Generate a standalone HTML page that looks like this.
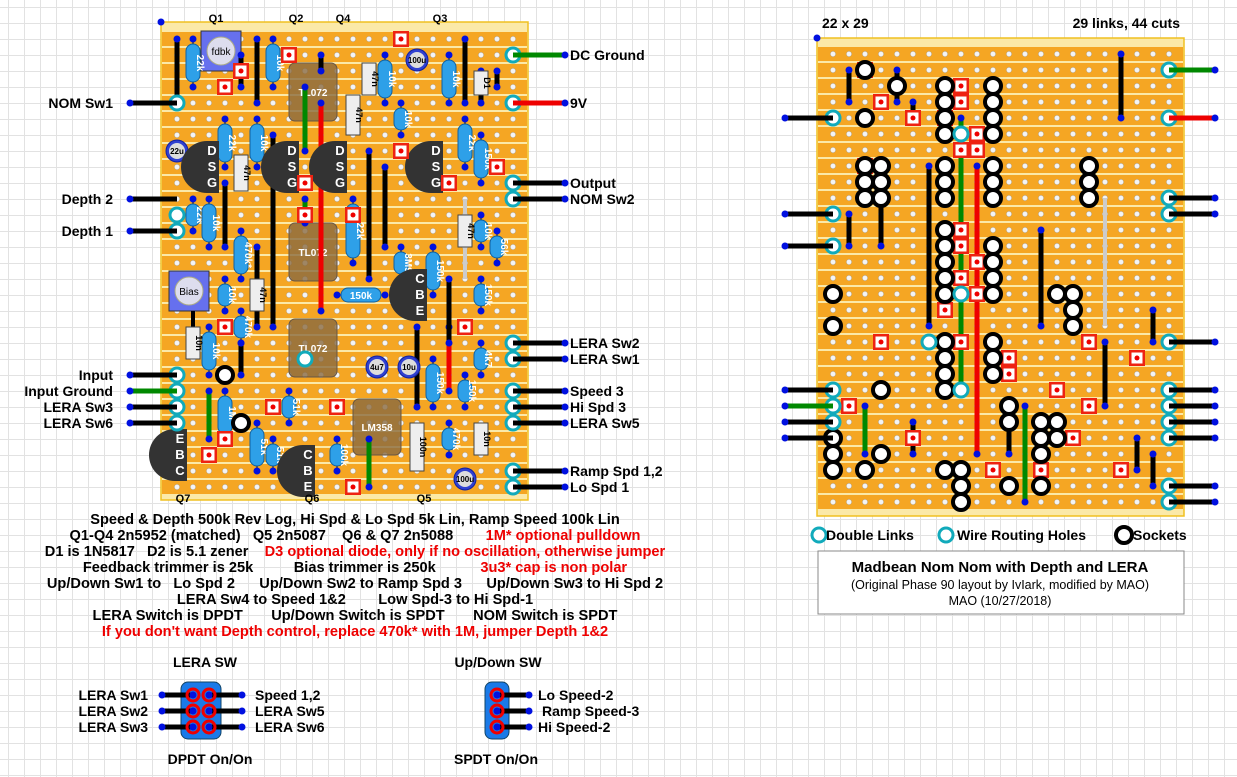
<!DOCTYPE html>
<html><head><meta charset="utf-8"><style>
body{margin:0;width:1237px;height:777px;overflow:hidden;background:#fff;
background-image:linear-gradient(#e2e2e2 1px,transparent 1px),linear-gradient(90deg,#e2e2e2 1px,transparent 1px);background-size:16px 16px;background-position:8px 7px;}
svg{position:absolute;left:0;top:0}
text{font-family:"Liberation Sans",Arial,sans-serif;font-weight:bold}
text.n{font-weight:normal}
</style></head><body>
<svg id="s" width="1237" height="777" xmlns="http://www.w3.org/2000/svg"></svg>
<script>
let o='';
function board(bx,by,hx,hy){
 o+=`<rect x="${bx}" y="${by}" width="367" height="478" fill="#fbe9a8" stroke="#f0c020" stroke-width="1.5"/>`;
 for(let r=0;r<29;r++){o+=`<rect x="${bx+1}" y="${hy+r*16-7}" width="365" height="14" fill="#f5a623"/>`;
  for(let c=0;c<22;c++)o+=`<circle cx="${hx+c*16}" cy="${hy+r*16}" r="2.6" fill="#f4f4f4" stroke="#aaa" stroke-width=".5"/>`;}
}
board(161,22,177,39);
board(817,38,833,54);
function line(x1,y1,x2,y2,col,w){o+=`<line x1="${x1}" y1="${y1}" x2="${x2}" y2="${y2}" stroke="${col}" stroke-width="${w||5}"/>`;}
function dot(x,y){o+=`<circle cx="${x}" cy="${y}" r="3.5" fill="#0010e0"/>`;}
function link(x1,y1,x2,y2,col){line(x1,y1,x2,y2,col||'#000',5);dot(x1,y1);dot(x2,y2);}
function cut(x,y){o+=`<rect x="${x-8}" y="${y-8}" width="16" height="16" fill="#e21" /><rect x="${x-5.5}" y="${y-5.5}" width="11" height="11" fill="#fff"/><circle cx="${x}" cy="${y}" r="2.5" fill="#e00"/>`;}
function res(x,y1,y2,t,h){ if(h){o+=`<line x1="${y1}" y1="${x}" x2="${y2}" y2="${x}" stroke="#000" stroke-width="1"/><rect x="${y1+4}" y="${x-7}" width="${y2-y1-8}" height="14" rx="7" fill="#2ea0e8" stroke="#1060a0"/><text x="${(y1+y2)/2}" y="${x+4}" font-size="10" fill="#fff" text-anchor="middle">${t}</text>`;dot(y1,x);dot(y2,x);return;}
 o+=`<line x1="${x}" y1="${y1}" x2="${x}" y2="${y2}" stroke="#000" stroke-width="1"/><rect x="${x-7}" y="${y1+5}" width="14" height="${y2-y1-10}" rx="7" fill="#2ea0e8" stroke="#1060a0"/><text transform="translate(${x+4},${(y1+y2)/2}) rotate(90)" font-size="10" fill="#fff" text-anchor="middle">${t}</text>`;dot(x,y1);dot(x,y2);}
function film(x,y1,y2,t){o+=`<rect x="${x-7}" y="${y1}" width="14" height="${y2-y1}" fill="#eee" stroke="#444"/><text transform="translate(${x+3},${(y1+y2)/2}) rotate(90)" font-size="9" fill="#000" text-anchor="middle">${t}</text>`;}
function elec(x,y,t){o+=`<circle cx="${x}" cy="${y}" r="11" fill="#3040d0" stroke="#1020a0"/><circle cx="${x}" cy="${y}" r="8" fill="#ddd"/><text x="${x}" y="${y+3}" font-size="8" text-anchor="middle">${t}</text>`;}
function tr(x,y,l){o+=`<path d="M${x-2} ${y-26} h12 v52 h-12 a26 26 0 0 1 0 -52z" fill="#333"/>`;
 l.split('').forEach((c,i)=>o+=`<text x="${x+3}" y="${y-12+i*16}" font-size="13" fill="#fff" text-anchor="middle">${c}</text>`);}
function ic(x,y,w,h,t){o+=`<rect x="${x}" y="${y}" width="${w}" height="${h}" rx="6" fill="#8a6a40" fill-opacity=".8" stroke="#654"/><text x="${x+w/2}" y="${y+h/2+4}" font-size="10" fill="#fff" text-anchor="middle">${t}</text>`;}
function pot(x,y,t){o+=`<rect x="${x}" y="${y}" width="40" height="40" fill="#6670ee" stroke="#333"/><circle cx="${x+20}" cy="${y+20}" r="14" fill="#dde" stroke="#aa8"/><text class="n" x="${x+20}" y="${y+24}" font-size="10" text-anchor="middle">${t}</text>`;}
function ring(x,y,c){o+=`<circle cx="${x}" cy="${y}" r="${c?7:8}" fill="#fff" stroke="${c?'#1ab':'#000'}" stroke-width="${c?3:4}"/>`;}
pot(201,31,'fdbk');pot(169,271,'Bias');
ic(289,63,48,58,'TL072');ic(289,223,48,58,'TL072');ic(289,319,48,58,'TL072');ic(353,399,48,56,'LM358');
link(321,103,321,311,'#e00');link(449,327,449,391,'#e00');link(305,87,305,151,'#080');link(305,199,305,223,'#080');link(369,439,369,487,'#080');link(209,391,209,439,'#080');
[[177,103,177,39],[241,55,241,87],[257,39,257,103],[321,71,321,55],[273,135,273,327],[225,183,225,247],[369,151,369,279],[385,167,385,247],[257,247,257,327],[449,279,449,343],[417,327,417,407],[241,343,241,375],[177,455,177,391],[465,39,465,103],[481,71,481,103],[497,71,497,87]].forEach(a=>link(...a));
line(465,199,465,279,'#ccc',4);line(193,311,193,327,'#000',4);
res(193,39,87,'22k');res(273,39,87,'10k');res(385,55,103,'10k');res(449,55,103,'10k');res(225,119,167,'22k');res(257,119,167,'10k');res(401,103,135,'10k');res(465,119,167,'22k');res(481,135,183,'150k');
res(193,199,231,'22k');res(209,199,247,'10k');res(241,231,279,'470k*');res(225,279,311,'10k');res(241,311,343,'470k');res(209,327,375,'10k');res(353,199,263,'22k');res(401,247,279,'3M9');res(433,247,295,'150k');res(481,279,311,'150k');res(481,215,247,'10k');res(497,231,263,'56k');res(295,337,385,'150k',1);
res(433,359,407,'150k');res(465,375,407,'150k');res(481,343,375,'4k7');res(225,391,439,'1M*');res(289,391,423,'51k');res(257,423,471,'51k');res(273,439,471,'51k');res(337,439,471,'100k');res(449,423,455,'470k');
film(369,63,95,'47n');film(353,95,135,'47n');film(241,155,191,'47n');film(257,279,311,'47n');film(465,215,247,'47n');film(193,327,359,'10n');film(417,423,471,'100n');film(481,423,455,'10n');film(481,71,95,'D1');
elec(177,151,'22u');elec(417,60,'100u');elec(377,367,'4u7');elec(409,367,'10u');elec(465,479,'100u');
tr(209,167,'DSG');tr(289,167,'DSG');tr(337,167,'DSG');tr(433,167,'DSG');tr(417,295,'CBE');tr(305,471,'CBE');tr(177,455,'EBC');
[[241,71],[225,87],[289,55],[401,39],[305,183],[305,215],[401,151],[449,183],[225,327],[225,439],[353,215],[273,407],[337,407],[353,487],[497,167],[209,455],[465,327]].forEach(a=>cut(...a));
[[177,103],[305,359],[177,375],[177,391],[177,407],[177,423],[513,55],[513,103],[513,183],[513,199],[513,343],[513,359],[513,391],[513,407],[513,423],[513,471],[513,487],[177,231],[177,215]].forEach(a=>ring(...a,1));
ring(225,375);ring(241,423);
function wl(y,col,t){line(130,y,177,y,col,5);dot(130,y);o+=`<text x="113" y="${y+5}" font-size="14" text-anchor="end">${t}</text>`;}
function wr(y,col,t){line(513,y,565,y,col,5);dot(565,y);o+=`<text x="570" y="${y+5}" font-size="14">${t}</text>`;}
wl(103,'#000','NOM Sw1');wl(199,'#000','Depth 2');wl(231,'#000','Depth 1');wl(375,'#000','Input');wl(391,'#080','Input Ground');wl(407,'#000','LERA Sw3');wl(423,'#000','LERA Sw6');
wr(55,'#080','DC Ground');wr(103,'#e00','9V');wr(183,'#000','Output');wr(199,'#000','NOM Sw2');wr(343,'#000','LERA Sw2');wr(359,'#000','LERA Sw1');wr(391,'#000','Speed 3');wr(407,'#000','Hi Spd 3');wr(423,'#000','LERA Sw5');wr(471,'#000','Ramp Spd 1,2');wr(487,'#000','Lo Spd 1');
[['Q1',216,22],['Q2',296,22],['Q4',343,22],['Q3',440,22],['Q7',183,502],['Q6',312,502],['Q5',424,502]].forEach(a=>o+=`<text x="${a[1]}" y="${a[2]}" font-size="11" text-anchor="middle">${a[0]}</text>`);
dot(161,22);dot(817,38);
link(977,166,977,454,'#e00');link(961,118,961,390,'#080');link(1025,406,1025,502,'#080');link(865,406,865,454,'#080');
[[897,70,897,102],[849,70,849,102],[913,102,913,118],[849,214,849,246],[881,198,881,246],[929,166,929,326],[1041,230,1041,326],[1121,54,1121,118],[1105,342,1105,406],[1153,310,1153,342],[1009,422,1009,454],[913,422,913,454],[1137,438,1137,470],[1153,454,1153,486]].forEach(a=>link(...a));
line(1105,198,1105,326,'#ccc',4);
[[865,70],[913,118],[881,102],[865,166],[945,118],[961,86],[961,102],[977,134],[977,150],[961,150],[961,230],[961,246],[977,262],[961,278],[977,294],[881,342],[961,342],[1089,342],[1009,358],[1137,358],[913,438],[1073,438],[993,470],[1041,470],[1121,470],[1009,374],[849,406],[1089,406],[945,310],[1057,390]].forEach(a=>cut(...a));
[[865,70],[897,86],[865,118],[945,86],[945,102],[945,118],[945,134],[993,86],[993,102],[993,118],[993,134],[865,166],[881,166],[865,182],[865,198],[881,182],[881,198],[1089,182],[1089,198],[1089,166],[945,166],[945,182],[945,198],[993,166],[993,182],[993,198],[945,230],[945,246],[945,262],[945,278],[945,294],[993,246],[993,262],[993,278],[993,294],[1057,294],[1073,294],[1073,310],[1073,326],[833,294],[833,326],[945,342],[945,358],[945,374],[945,390],[993,342],[993,358],[993,374],[881,390],[1009,406],[1009,422],[1041,422],[1057,422],[1041,438],[1057,438],[1041,454],[833,438],[833,454],[833,470],[865,470],[881,454],[961,470],[945,470],[961,486],[961,502],[1009,486],[1041,486]].forEach(a=>ring(...a));
[[833,118],[833,214],[833,246],[833,390],[833,406],[833,422],[1169,70],[1169,118],[1169,198],[1169,214],[1169,342],[1169,390],[1169,406],[1169,422],[1169,438],[1169,486],[1169,502],[961,134],[961,294],[961,390],[929,342]].forEach(a=>ring(...a,1));
function rl(y,col){line(785,y,833,y,col,5);dot(785,y);}function rr(y,col){line(1169,y,1215,y,col,5);dot(1215,y);}
[[118,'#000'],[214,'#000'],[246,'#000'],[390,'#000'],[406,'#080'],[422,'#000'],[438,'#000']].forEach(a=>rl(...a));
[[70,'#080'],[118,'#e00'],[198,'#000'],[214,'#000'],[342,'#000'],[390,'#000'],[406,'#000'],[422,'#000'],[438,'#000'],[486,'#000'],[502,'#000']].forEach(a=>rr(...a));
o+=`<text x="822" y="28" font-size="14">22 x 29</text><text x="1180" y="28" font-size="14" text-anchor="end">29 links, 44 cuts</text>`;
ring(819,535,1);ring(946,535,1);ring(1124,535);
o+=`<text x="826" y="540" font-size="14">Double Links</text><text x="957" y="540" font-size="14">Wire Routing Holes</text><text x="1133" y="540" font-size="14">Sockets</text>`;
o+=`<rect x="818" y="551" width="366" height="63" fill="#fff" stroke="#888"/><text x="1000" y="572" font-size="15" text-anchor="middle">Madbean Nom Nom with Depth and LERA</text><text class="n" x="1000" y="589" font-size="12.5" text-anchor="middle">(Original Phase 90 layout by IvIark, modified by MAO)</text><text class="n" x="1000" y="605" font-size="12.5" text-anchor="middle">MAO  (10/27/2018)</text>`;
const notes=[[524,'Speed &amp; Depth 500k Rev Log, Hi Spd &amp; Lo Spd 5k Lin, Ramp Speed 100k Lin'],
[540,'Q1-Q4 2n5952 (matched)   Q5 2n5087    Q6 &amp; Q7 2n5088        <tspan fill="#e00">1M* optional pulldown</tspan>'],
[556,'D1 is 1N5817   D2 is 5.1 zener    <tspan fill="#e00">D3 optional diode, only if no oscillation, otherwise jumper</tspan>'],
[572,'Feedback trimmer is 25k          Bias trimmer is 250k           <tspan fill="#e00">3u3* cap is non polar</tspan>'],
[588,'Up/Down Sw1 to   Lo Spd 2      Up/Down Sw2 to Ramp Spd 3      Up/Down Sw3 to Hi Spd 2'],
[604,'LERA Sw4 to Speed 1&amp;2        Low Spd-3 to Hi Spd-1'],
[620,'LERA Switch is DPDT       Up/Down Switch is SPDT       NOM Switch is SPDT'],
[636,'<tspan fill="#e00">If you don\'t want Depth control, replace 470k* with 1M, jumper Depth 1&amp;2</tspan>']];
notes.forEach(n=>o+=`<text x="355" y="${n[0]}" font-size="14.6" text-anchor="middle" xml:space="preserve">${n[1]}</text>`);
o+=`<text x="205" y="667" font-size="14" text-anchor="middle">LERA SW</text><text x="210" y="764" font-size="14" text-anchor="middle">DPDT On/On</text>`;
o+=`<rect x="181" y="682" width="40" height="57" rx="7" fill="#1a7ae8" stroke="#146"/>`;
[695,711,727].forEach((y,i)=>{line(162,y,193,y,'#000',5);dot(162,y);line(209,y,242,y,'#000',5);dot(242,y);o+=`<circle cx="193" cy="${y}" r="6" fill="none" stroke="#e00" stroke-width="3"/><circle cx="209" cy="${y}" r="6" fill="none" stroke="#e00" stroke-width="3"/>`;dot(193,y);dot(209,y);
 o+=`<text x="148" y="${y+5}" font-size="14" text-anchor="end">${['LERA Sw1','LERA Sw2','LERA Sw3'][i]}</text><text x="255" y="${y+5}" font-size="14">${['Speed 1,2','LERA Sw5','LERA Sw6'][i]}</text>`;});
o+=`<text x="498" y="667" font-size="14" text-anchor="middle">Up/Down SW</text><text x="496" y="764" font-size="14" text-anchor="middle">SPDT On/On</text>`;
o+=`<rect x="485" y="682" width="24" height="57" rx="7" fill="#1a7ae8" stroke="#146"/>`;
[695,711,727].forEach((y,i)=>{line(497,y,529,y,'#000',5);dot(529,y);o+=`<circle cx="497" cy="${y}" r="6" fill="none" stroke="#e00" stroke-width="3"/>`;dot(497,y);o+=`<text x="${i==1?542:538}" y="${y+5}" font-size="14">${['Lo Speed-2','Ramp Speed-3','Hi Speed-2'][i]}</text>`;});
document.getElementById('s').innerHTML=o;
</script>
</body></html>
